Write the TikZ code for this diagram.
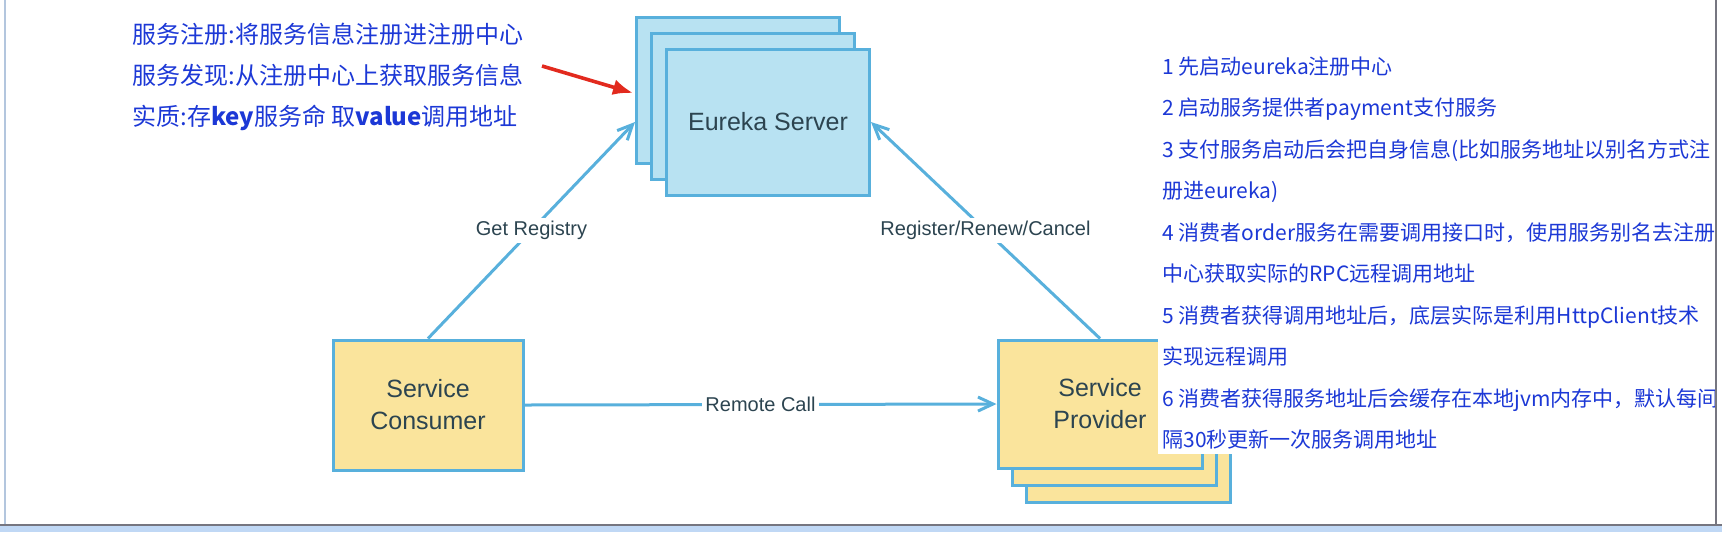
\documentclass[tikz,border=0pt]{standalone}
\usepackage{fontspec}
\setmainfont{Liberation Sans}
\newfontfamily\cjk{Noto Sans CJK SC}
\usetikzlibrary{arrows.meta}

\definecolor{boxblue}{RGB}{184,226,242}
\definecolor{edgeblue}{RGB}{88,176,220}
\definecolor{boxyellow}{RGB}{250,228,156}
\definecolor{inkslate}{RGB}{44,68,80}
\definecolor{noteblue}{RGB}{28,56,214}
\definecolor{markred}{RGB}{226,42,30}
\definecolor{framegray}{RGB}{118,118,128}
\definecolor{frameblue}{RGB}{192,216,245}

\begin{document}
\begin{tikzpicture}[x=0.5pt,y=-0.5pt,
    server/.style={draw=edgeblue, line width=1.5pt, fill=boxblue, minimum width=101.5pt,
      minimum height=73pt, text=inkslate, font=\fontsize{12.5}{16}\selectfont, align=center},
    client/.style={server, fill=boxyellow, minimum width=102pt, minimum height=64pt},
    link/.style={draw=edgeblue, line width=1.5pt, -{Straight Barb[length=7.5pt,width=7pt]}},
    lbl/.style={fill=white, text=inkslate, font=\fontsize{10}{12}\selectfont, inner sep=1.5pt},
    note/.style={text=noteblue, align=left, anchor=west, inner sep=2pt}
  ]
  \useasboundingbox (0,0) rectangle (1722,532);
  % Frame
  \fill[frameblue] (0,525) rectangle (1722,532);
  \draw[frameblue!80!gray, line width=1pt] (4.5,0) -- (4.5,524);
  \draw[framegray, line width=1pt] (0,524.5) -- (1722,524.5);
  %
  % Eureka server stack
  \node[server] (eurekaB) at (738,90) {};
  \node[server] (eurekaM) at (753,106) {};
  \node[server] (eureka) at (768,122) {Eureka Server};
  %
  % Provider stack
  \node[client] (providerB) at (1128,438) {};
  \node[client] (providerM) at (1114,421) {};
  \node[client] (provider) at (1100,404) {Service\\Provider};
  %
  % Consumer
  \node[client, minimum width=95pt, minimum height=65pt] (consumer) at (428,405) {Service\\Consumer};
  %
  \draw[link] (consumer.north) -- node[lbl] {Get Registry} (eurekaB.west |- eureka.center);
  \draw[link] (provider.north) -- node[lbl] {Register/Renew/Cancel} (eureka.east);
  \draw[link] (consumer.east) -- node[lbl] {Remote Call} (provider.west);
  %
  % Hint text
  \node[note, font=\cjk\fontsize{12}{20.5}\selectfont] (concept) at (128,77)
    {服务注册:将服务信息注册进注册中心\\服务发现:从注册中心上获取服务信息\\实质:存\textbf{key}服务命 取\textbf{value}调用地址};
  \coordinate (hintTail) at (542,66);
  \coordinate (hintHead) at (633,93);
  \draw[markred, line width=1.8pt, -{Latex[length=10pt,width=8pt]}] (hintTail) -- (hintHead);
  %
  % Steps
  \begin{scope}
    \clip (0,0) rectangle (1715,532);
    \node[note, fill=white, font=\cjk\fontsize{10.5}{20.75}\selectfont] (steps) at (1158,253)
      {1 先启动eureka注册中心\\
       2 启动服务提供者payment支付服务\\
       3 支付服务启动后会把自身信息(比如服务地址以别名方式注\\
       册进eureka)\\
       4 消费者order服务在需要调用接口时，使用服务别名去注册\\
       中心获取实际的RPC远程调用地址\\
       5 消费者获得调用地址后，底层实际是利用HttpClient技术\\
       实现远程调用\\
       6 消费者获得服务地址后会缓存在本地jvm内存中，默认每间\\
       隔30秒更新一次服务调用地址};
  \end{scope}
  \draw[framegray, line width=1pt] (1716,0) -- (1716,524);
\end{tikzpicture}
\end{document}
